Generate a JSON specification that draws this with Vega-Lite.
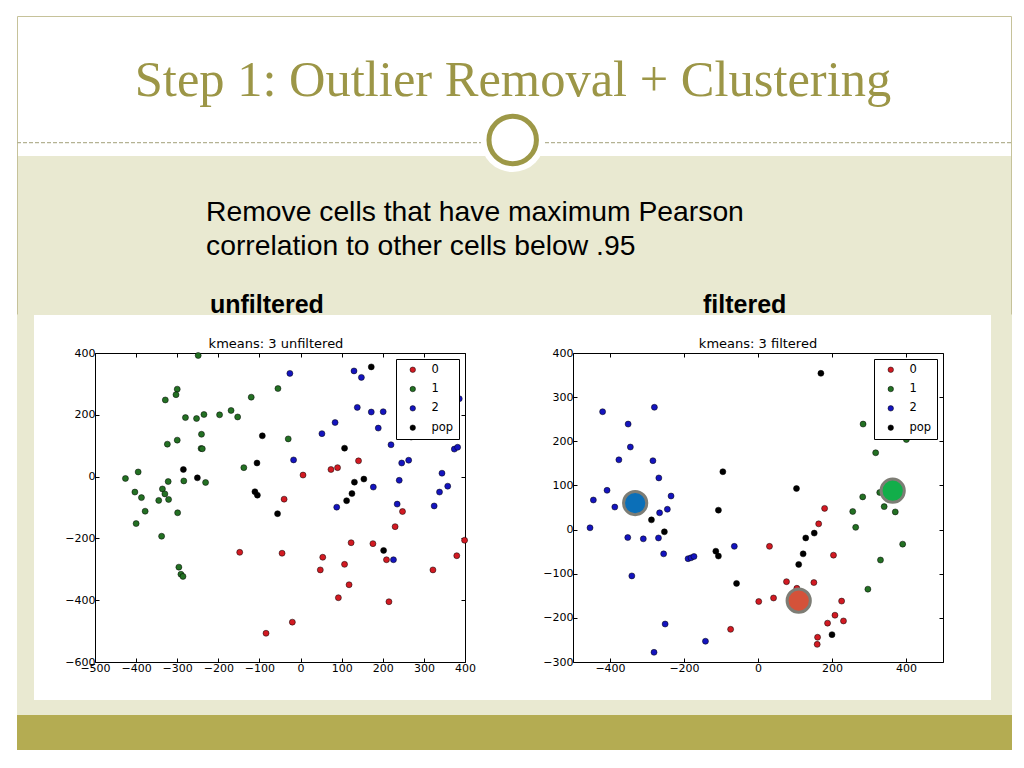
{
"$schema": "https://vega.github.io/schema/vega-lite/v6.json",
"background": "white",
"padding": {"left": 16, "top": 16, "right": 13, "bottom": 18},
"config": {
  "view": {"stroke": null},
  "axis": {"domain": false, "grid": false, "tickSize": -4, "tickColor": "black", "tickWidth": 1, "labelFont": "DejaVu Sans", "labelFontSize": 11, "labelColor": "black", "labelPadding": 4, "labelFlush": false, "labelOverlap": false}
},
"datasets": {
  "left": [
    {"c":"1","x":-249,"y":392},{"c":"1","x":-300,"y":283},{"c":"1","x":-303,"y":265},{"c":"1","x":-329,"y":248},{"c":"1","x":-55,"y":285},{"c":"1","x":-120,"y":257},{"c":"1","x":-280,"y":191},{"c":"1","x":-253,"y":188},{"c":"1","x":-235,"y":201},{"c":"1","x":-197,"y":200},{"c":"1","x":-169,"y":214},{"c":"1","x":-153,"y":193},{"c":"1","x":-241,"y":137},{"c":"1","x":-324,"y":105},{"c":"1","x":-300,"y":118},{"c":"1","x":-242,"y":91},{"c":"1","x":-239,"y":90},{"c":"1","x":-138,"y":29},{"c":"1","x":-395,"y":15},{"c":"1","x":-426,"y":-6},{"c":"1","x":-322,"y":-16},{"c":"1","x":-284,"y":-14},{"c":"1","x":-231,"y":-19},{"c":"1","x":-336,"y":-40},{"c":"1","x":-330,"y":-56},{"c":"1","x":-403,"y":-50},{"c":"1","x":-387,"y":-68},{"c":"1","x":-345,"y":-77},{"c":"1","x":-321,"y":-74},{"c":"1","x":-378,"y":-112},{"c":"1","x":-299,"y":-117},{"c":"1","x":-400,"y":-152},{"c":"1","x":-338,"y":-193},{"c":"1","x":-296,"y":-293},{"c":"1","x":-291,"y":-316},{"c":"1","x":-286,"y":-323},{"c":"1","x":-30,"y":122},
    {"c":"0","x":-148,"y":-245},{"c":"0","x":-84,"y":-507},{"c":"0","x":-45,"y":-248},{"c":"0","x":141,"y":51},{"c":"0","x":74,"y":23},{"c":"0","x":90,"y":29},{"c":"0","x":6,"y":5},{"c":"0","x":-40,"y":-73},{"c":"0","x":248,"y":-113},{"c":"0","x":230,"y":-162},{"c":"0","x":123,"y":-214},{"c":"0","x":176,"y":-217},{"c":"0","x":209,"y":-269},{"c":"0","x":54,"y":-261},{"c":"0","x":48,"y":-302},{"c":"0","x":107,"y":-284},{"c":"0","x":118,"y":-350},{"c":"0","x":92,"y":-392},{"c":"0","x":215,"y":-405},{"c":"0","x":322,"y":-302},{"c":"0","x":380,"y":-256},{"c":"0","x":399,"y":-206},{"c":"0","x":-20,"y":-471},
    {"c":"2","x":-26,"y":334},{"c":"2","x":130,"y":342},{"c":"2","x":148,"y":321},{"c":"2","x":138,"y":224},{"c":"2","x":172,"y":209},{"c":"2","x":201,"y":210},{"c":"2","x":84,"y":175},{"c":"2","x":52,"y":139},{"c":"2","x":189,"y":157},{"c":"2","x":220,"y":103},{"c":"2","x":269,"y":128},{"c":"2","x":386,"y":252},{"c":"2","x":374,"y":89},{"c":"2","x":382,"y":95},{"c":"2","x":-17,"y":54},{"c":"2","x":246,"y":44},{"c":"2","x":263,"y":53},{"c":"2","x":344,"y":11},{"c":"2","x":358,"y":-31},{"c":"2","x":338,"y":-50},{"c":"2","x":240,"y":-12},{"c":"2","x":177,"y":-34},{"c":"2","x":235,"y":-89},{"c":"2","x":325,"y":-95},{"c":"2","x":88,"y":-99},{"c":"2","x":226,"y":-269},
    {"c":"pop","x":-285,"y":23},{"c":"pop","x":-251,"y":-4},{"c":"pop","x":-93,"y":132},{"c":"pop","x":-106,"y":44},{"c":"pop","x":-111,"y":-49},{"c":"pop","x":-105,"y":-60},{"c":"pop","x":-56,"y":-120},{"c":"pop","x":172,"y":355},{"c":"pop","x":107,"y":92},{"c":"pop","x":154,"y":-8},{"c":"pop","x":131,"y":-18},{"c":"pop","x":125,"y":-55},{"c":"pop","x":112,"y":-78},{"c":"pop","x":202,"y":-239}
  ],
  "right": [
    {"c":"2","x":-420,"y":267},{"c":"2","x":-280,"y":277},{"c":"2","x":-351,"y":239},{"c":"2","x":-345,"y":187},{"c":"2","x":-376,"y":158},{"c":"2","x":-284,"y":156},{"c":"2","x":-268,"y":117},{"c":"2","x":-408,"y":89},{"c":"2","x":-445,"y":67},{"c":"2","x":-235,"y":76},{"c":"2","x":-387,"y":51},{"c":"2","x":-266,"y":38},{"c":"2","x":-245,"y":46},{"c":"2","x":-454,"y":4},{"c":"2","x":-352,"y":-18},{"c":"2","x":-310,"y":-21},{"c":"2","x":-269,"y":-19},{"c":"2","x":-255,"y":-55},{"c":"2","x":-189,"y":-66},{"c":"2","x":-181,"y":-64},{"c":"2","x":-173,"y":-61},{"c":"2","x":-64,"y":-38},{"c":"2","x":-341,"y":-105},{"c":"2","x":-251,"y":-214},{"c":"2","x":-142,"y":-253},{"c":"2","x":-281,"y":-278},
    {"c":"pop","x":-95,"y":131},{"c":"pop","x":-107,"y":44},{"c":"pop","x":-288,"y":22},{"c":"pop","x":-253,"y":-5},{"c":"pop","x":-114,"y":-49},{"c":"pop","x":-107,"y":-60},{"c":"pop","x":-58,"y":-122},{"c":"pop","x":170,"y":354},{"c":"pop","x":104,"y":93},{"c":"pop","x":152,"y":-8},{"c":"pop","x":129,"y":-19},{"c":"pop","x":122,"y":-55},{"c":"pop","x":110,"y":-79},{"c":"pop","x":200,"y":-238},
    {"c":"0","x":-74,"y":-226},{"c":"0","x":180,"y":48},{"c":"0","x":164,"y":13},{"c":"0","x":31,"y":-38},{"c":"0","x":204,"y":-58},{"c":"0","x":77,"y":-118},{"c":"0","x":151,"y":-120},{"c":"0","x":105,"y":-133},{"c":"0","x":2,"y":-163},{"c":"0","x":42,"y":-155},{"c":"0","x":226,"y":-162},{"c":"0","x":208,"y":-194},{"c":"0","x":231,"y":-207},{"c":"0","x":188,"y":-212},{"c":"0","x":161,"y":-244},{"c":"0","x":160,"y":-260},
    {"c":"1","x":284,"y":239},{"c":"1","x":401,"y":204},{"c":"1","x":318,"y":174},{"c":"1","x":283,"y":74},{"c":"1","x":341,"y":52},{"c":"1","x":256,"y":41},{"c":"1","x":371,"y":40},{"c":"1","x":329,"y":84},{"c":"1","x":264,"y":5},{"c":"1","x":391,"y":-33},{"c":"1","x":331,"y":-69},{"c":"1","x":297,"y":-135}
  ],
  "centers": [
    {"c":"0","x":110,"y":-161},{"c":"1","x":364,"y":88},{"c":"2","x":-332,"y":60}
  ]
},
"spacing": 0,
"resolve": {"scale": {"x": "independent", "y": "independent"}},
"vconcat": [
  {
    "width": 995, "height": 299,
    "view": {"fill": "white", "stroke": null},
    "encoding": {
      "x": {"field": "x", "type": "quantitative", "scale": {"domain": [0, 995], "nice": false, "zero": false}, "axis": null},
      "y": {"field": "y", "type": "quantitative", "scale": {"domain": [0, 299], "reverse": true, "nice": false, "zero": false}, "axis": null}
    },
    "layer": [
      {
        "data": {"values": [{"x": 0, "x2": 995, "y": 140, "y2": 299}]},
        "mark": {"type": "rect", "color": "#e9e9d1", "strokeWidth": 0},
        "encoding": {"x2": {"field": "x2"}, "y2": {"field": "y2"}}
      },
      {
        "data": {"values": [{"x": 0.5, "x2": 994.5, "y": 0.5, "y2": 0.5}, {"x": 0.5, "x2": 0.5, "y": 0.5, "y2": 298.5}, {"x": 994.5, "x2": 994.5, "y": 0.5, "y2": 298.5}]},
        "mark": {"type": "rule", "stroke": "#c6c29a", "strokeWidth": 1},
        "encoding": {"x2": {"field": "x2"}, "y2": {"field": "y2"}}
      },
      {
        "data": {"values": [{"x": 0, "x2": 995, "y": 126.7}]},
        "mark": {"type": "rule", "stroke": "#b4b293", "strokeWidth": 1.3, "strokeDash": [4, 2]},
        "encoding": {"x2": {"field": "x2"}}
      },
      {
        "data": {"values": [{"x": 495.7, "y": 124}]},
        "mark": {"type": "point", "filled": true, "color": "white", "size": 4096, "opacity": 1, "strokeWidth": 0}
      },
      {
        "data": {"values": [{"x": 495.7, "y": 124}]},
        "mark": {"type": "point", "filled": false, "stroke": "#9d9847", "strokeWidth": 5, "size": 2250, "opacity": 1}
      },
      {
        "data": {"values": [{"t": "Step 1: Outlier Removal + Clustering", "x": 496, "y": 79.5}]},
        "mark": {"type": "text", "font": "Liberation Serif", "fontSize": 50.5, "color": "#9c9647", "align": "center", "baseline": "alphabetic"},
        "encoding": {"text": {"field": "t"}}
      },
      {
        "data": {"values": [{"t": "Remove cells that have maximum Pearson", "x": 189, "y": 205}, {"t": "correlation to other cells below .95", "x": 189, "y": 239}]},
        "mark": {"type": "text", "font": "Liberation Sans", "fontSize": 28.3, "color": "black", "align": "left", "baseline": "alphabetic"},
        "encoding": {"text": {"field": "t"}}
      },
      {
        "data": {"values": [{"t": "unfiltered", "x": 193, "y": 297}, {"t": "filtered", "x": 686, "y": 297}]},
        "mark": {"type": "text", "font": "Liberation Sans", "fontSize": 25, "fontWeight": "bold", "color": "black", "align": "left", "baseline": "alphabetic", "clip": true},
        "encoding": {"text": {"field": "t"}}
      }
    ]
  },
  {
    "bounds": "flush",
    "spacing": 0,
    "resolve": {"scale": {"x": "independent", "y": "independent", "color": "independent", "fill": "independent"}, "legend": {"color": "independent"}},
    "hconcat": [
      {
        "width": 17, "height": 347,
        "data": {"values": [{"x": 0, "x2": 1, "y": -38, "y2": 347}]},
        "mark": {"type": "rect", "color": "#e9e9d1", "strokeWidth": 0},
        "encoding": {
          "x": {"field": "x", "type": "quantitative", "scale": {"domain": [0, 1], "nice": false, "zero": false}, "axis": null},
          "x2": {"field": "x2"},
          "y": {"field": "y", "type": "quantitative", "scale": {"domain": [0, 347], "reverse": true, "nice": false, "zero": false}, "axis": null},
          "y2": {"field": "y2"}
        }
      },
      {"width": 61, "height": 309, "data": {"values": []}, "mark": "point", "encoding": {}},
      {
        "width": 370, "height": 309,
        "view": {"stroke": "black", "strokeWidth": 1, "fill": "white"},
        "title": {"text": "kmeans: 3 unfiltered", "font": "DejaVu Sans", "fontSize": 13, "fontWeight": "normal", "color": "black", "offset": -14, "anchor": "middle", "baseline": "alphabetic", "dx": -4},
        "data": {"name": "left"},
        "resolve": {"axis": {"x": "independent", "y": "independent"}},
        "layer": [
          {
            "mark": {"type": "point", "filled": true, "size": 36, "stroke": "black", "strokeWidth": 0.5, "opacity": 1},
            "encoding": {
              "x": {"field": "x", "type": "quantitative", "scale": {"domain": [-500, 400], "nice": false, "zero": false}, "axis": {"orient": "bottom", "title": null, "values": [-500, -400, -300, -200, -100, 0, 100, 200, 300, 400]}},
              "y": {"field": "y", "type": "quantitative", "scale": {"domain": [-600, 400], "nice": false, "zero": false}, "axis": {"orient": "left", "title": null, "values": [-600, -400, -200, 0, 200, 400]}},
              "color": {"field": "c", "type": "nominal", "scale": {"domain": ["0", "1", "2", "pop"], "range": ["#d21a22", "#237023", "#1414be", "#000000"]},
                "legend": {"orient": "top-right", "offset": 6, "title": null, "padding": 5, "rowPadding": 6.3, "symbolOffset": 6, "labelOffset": 13, "labelFont": "DejaVu Sans", "labelFontSize": 11.5, "labelColor": "black", "strokeColor": "black", "fillColor": "white", "symbolType": "circle", "symbolSize": 30, "symbolStrokeColor": "black", "symbolStrokeWidth": 0.5, "cornerRadius": 0}}
            }
          },
          {
            "mark": {"type": "point", "opacity": 0},
            "encoding": {
              "x": {"field": "x", "type": "quantitative", "scale": {"domain": [-500, 400], "nice": false, "zero": false}, "axis": {"orient": "top", "title": null, "labels": false, "values": [-500, -400, -300, -200, -100, 0, 100, 200, 300, 400]}},
              "y": {"field": "y", "type": "quantitative", "scale": {"domain": [-600, 400], "nice": false, "zero": false}, "axis": {"orient": "right", "title": null, "labels": false, "values": [-600, -400, -200, 0, 200, 400]}}
            }
          }
        ]
      },
      {"width": 108, "height": 309, "data": {"values": []}, "mark": "point", "encoding": {}},
      {
        "width": 370, "height": 309,
        "view": {"stroke": "black", "strokeWidth": 1, "fill": "white"},
        "title": {"text": "kmeans: 3 filtered", "font": "DejaVu Sans", "fontSize": 13, "fontWeight": "normal", "color": "black", "offset": -14, "anchor": "middle", "baseline": "alphabetic"},
        "resolve": {"axis": {"x": "independent", "y": "independent"}},
        "layer": [
          {
            "data": {"name": "right"},
            "mark": {"type": "point", "filled": true, "size": 36, "stroke": "black", "strokeWidth": 0.5, "opacity": 1},
            "encoding": {
              "x": {"field": "x", "type": "quantitative", "scale": {"domain": [-500, 500], "nice": false, "zero": false}, "axis": {"orient": "bottom", "title": null, "values": [-400, -200, 0, 200, 400]}},
              "y": {"field": "y", "type": "quantitative", "scale": {"domain": [-300, 400], "nice": false, "zero": false}, "axis": {"orient": "left", "title": null, "values": [-300, -200, -100, 0, 100, 200, 300, 400]}},
              "color": {"field": "c", "type": "nominal", "scale": {"domain": ["0", "1", "2", "pop"], "range": ["#d21a22", "#237023", "#1414be", "#000000"]},
                "legend": {"orient": "top-right", "offset": 6, "title": null, "padding": 5, "rowPadding": 6.3, "symbolOffset": 6, "labelOffset": 13, "labelFont": "DejaVu Sans", "labelFontSize": 11.5, "labelColor": "black", "strokeColor": "black", "fillColor": "white", "symbolType": "circle", "symbolSize": 30, "symbolStrokeColor": "black", "symbolStrokeWidth": 0.5, "cornerRadius": 0}}
            }
          },
          {
            "data": {"name": "right"},
            "mark": {"type": "point", "opacity": 0},
            "encoding": {
              "x": {"field": "x", "type": "quantitative", "scale": {"domain": [-500, 500], "nice": false, "zero": false}, "axis": {"orient": "top", "title": null, "labels": false, "values": [-400, -200, 0, 200, 400]}},
              "y": {"field": "y", "type": "quantitative", "scale": {"domain": [-300, 400], "nice": false, "zero": false}, "axis": {"orient": "right", "title": null, "labels": false, "values": [-300, -200, -100, 0, 100, 200, 300, 400]}}
            }
          },
          {
            "data": {"name": "centers"},
            "mark": {"type": "point", "filled": true, "size": 540, "stroke": "#7d7d75", "strokeWidth": 3, "opacity": 1},
            "encoding": {
              "x": {"field": "x", "type": "quantitative", "axis": null},
              "y": {"field": "y", "type": "quantitative", "axis": null},
              "fill": {"field": "c", "type": "nominal", "scale": {"domain": ["0", "1", "2"], "range": ["#d4523a", "#12ae4a", "#0b6fb8"]}, "legend": null}
            }
          }
        ]
      },
      {"width": 48, "height": 309, "data": {"values": []}, "mark": "point", "encoding": {}},
      {
        "width": 21, "height": 347,
        "data": {"values": [{"x": 0, "x2": 1, "y": -38, "y2": 347}]},
        "mark": {"type": "rect", "color": "#e9e9d1", "strokeWidth": 0},
        "encoding": {
          "x": {"field": "x", "type": "quantitative", "scale": {"domain": [0, 1], "nice": false, "zero": false}, "axis": null},
          "x2": {"field": "x2"},
          "y": {"field": "y", "type": "quantitative", "scale": {"domain": [0, 347], "reverse": true, "nice": false, "zero": false}, "axis": null},
          "y2": {"field": "y2"}
        }
      }
    ]
  },
  {"width": 995, "height": 15, "view": {"fill": "#e9e9d1", "stroke": null}, "data": {"values": []}, "mark": "point", "encoding": {}},
  {"width": 995, "height": 35, "view": {"fill": "#b4ac52", "stroke": null}, "data": {"values": []}, "mark": "point", "encoding": {}}
]
}
